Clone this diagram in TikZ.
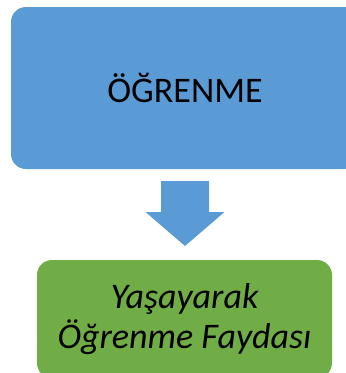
\documentclass[tikz,border=0pt]{standalone}
\usepackage{fontspec}
\setmainfont{Carlito}
\usetikzlibrary{positioning}

\definecolor{kutumavi}{HTML}{5B9BD5}
\definecolor{kutuyesil}{HTML}{70AD47}

\begin{document}
\begin{tikzpicture}[x=1pt,y=-1pt,
    kutu/.style={rounded corners=15pt,inner sep=0pt,align=center,text=black}]
    % page frame (346 x 373)
    \useasboundingbox (0,0) rectangle (346,373);
    \clip (0,0) rectangle (346,373);
    % boxes
    \node[kutu,fill=kutumavi,minimum width=348pt,minimum height=162pt,
          font=\fontsize{36}{40}\selectfont] (ogrenme) at (185,88) {ÖĞRENME};
    \node[kutu,fill=kutuyesil,minimum width=295pt,minimum height=118pt,
          font=\fontsize{36}{40}\itshape]
          (fayda) at (184.5,319) {Yaşayarak\\Öğrenme Faydası};
    % block arrow between them
    \fill[kutumavi] (161,181) -- (209,181) -- (209,212) -- (224.5,212)
      -- (185,246) -- (145.5,212) -- (161,212) -- cycle;
\end{tikzpicture}
\end{document}
